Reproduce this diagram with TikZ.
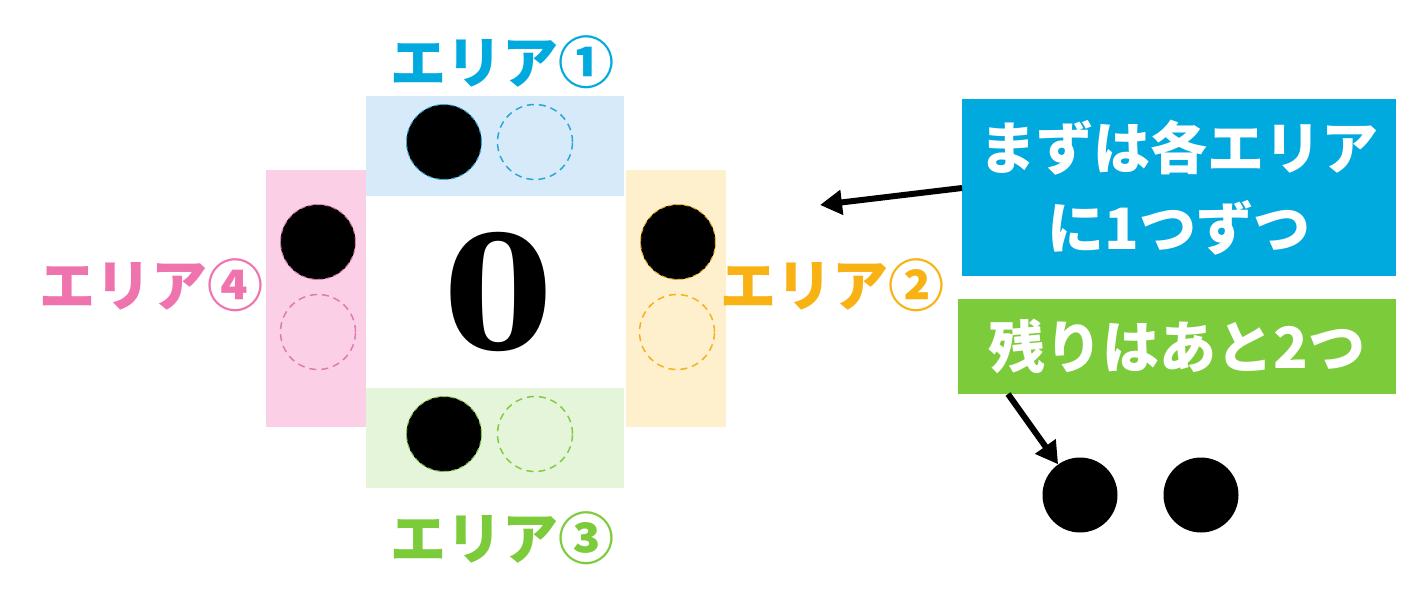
\documentclass[tikz,border=0pt]{standalone}
\usepackage{fontspec}
\newfontfamily\jp{Noto Sans CJK JP}
\newfontfamily\zf{DejaVu Serif}
\usetikzlibrary{arrows.meta}
\definecolor{cBlue}{HTML}{00A9DE}
\definecolor{cOrange}{HTML}{F9B213}
\definecolor{cPink}{HTML}{EF74AE}
\definecolor{cGreen}{HTML}{7CCB3B}
\definecolor{fBlue}{HTML}{D6EAFA}
\definecolor{fPink}{HTML}{FBD0E6}
\definecolor{fOrange}{HTML}{FEF0CD}
\definecolor{fGreen}{HTML}{E4F5DA}
\definecolor{dBlue}{HTML}{2DA6D6}
\definecolor{dOrange}{HTML}{F4B21F}
\definecolor{dPink}{HTML}{DE7BAE}
\definecolor{dGreen}{HTML}{82CB48}
\tikzset{
  areabox/.style={draw=none, inner sep=0pt, outer sep=0pt},
  filled/.style={circle, fill=black, minimum size=75pt, inner sep=0pt, line width=1pt, dash pattern=on 5pt off 3pt},
  empty/.style={circle, minimum size=75pt, inner sep=0pt, line width=1.5pt, dash pattern=on 7pt off 5pt},
  arealabel/.style={inner sep=0pt, font=\jp\bfseries\fontsize{56}{60}\selectfont},
  msgbox/.style={inner sep=0pt, text=white, align=center, font=\jp\bfseries\fontsize{57}{80}\selectfont},
  arr/.style={line width=6pt, -{Triangle[length=22pt,width=24pt]}},
  dot/.style={circle, fill=black, minimum size=75pt, inner sep=0pt}
}
\begin{document}
\begin{tikzpicture}[x=1pt,y=-1pt]
\useasboundingbox (0,0) rectangle (1417,616);
\fill[white] (0,0) rectangle (1417,616);
% areas
\node[areabox, fill=fBlue, minimum width=258pt, minimum height=100pt] (a1) at (495,146) {};
\node[areabox, fill=fPink, minimum width=100pt, minimum height=257pt] (a4) at (316,298.5) {};
\node[areabox, fill=fOrange, minimum width=100pt, minimum height=257pt] (a2) at (676,298.5) {};
\node[areabox, fill=fGreen, minimum width=258pt, minimum height=100pt] (a3) at (495,438) {};
% circles
\node[filled, draw=dBlue] (c1f) at (444,142) {};
\node[empty, draw=dBlue] (c1e) at (535,142) {};
\node[filled, draw=dPink] (c4f) at (318,242) {};
\node[empty, draw=dPink] (c4e) at (318,332) {};
\node[filled, draw=dOrange] (c2f) at (678,242) {};
\node[empty, draw=dOrange] (c2e) at (677,332) {};
\node[filled, draw=dGreen] (c3f) at (444,434) {};
\node[empty, draw=dGreen] (c3e) at (535,434) {};
% zero
\node[inner sep=0pt, font=\zf\bfseries\fontsize{158}{160}\selectfont] (zero) at (498,292) {0};
% labels
\node[arealabel, text=cBlue] (l1) at (502,62) {エリア①};
\node[arealabel, text=cOrange] (l2) at (832,285) {エリア②};
\node[arealabel, text=cGreen] (l3) at (502,538) {エリア③};
\node[arealabel, text=cPink] (l4) at (151,285) {エリア④};
% message boxes
\node[msgbox, fill=cBlue, minimum width=434pt, minimum height=177pt] (m1) at (1179,187.5) {まずは各エリア\\に1つずつ};
\node[msgbox, fill=cGreen, minimum width=438pt, minimum height=95pt] (m2) at (1177,346.5) {残りはあと2つ};
% dots
\node[dot] (d1) at (1080,495) {};
\node[dot] (d2) at (1201,495) {};
% arrows
\coordinate (t1) at (820,205);
\coordinate (s1) at (962,188);
\coordinate (s2) at (1008,394);
\draw[arr] (s1) -- (t1);
\draw[arr] (s2) -- (d1);
\end{tikzpicture}
\end{document}
